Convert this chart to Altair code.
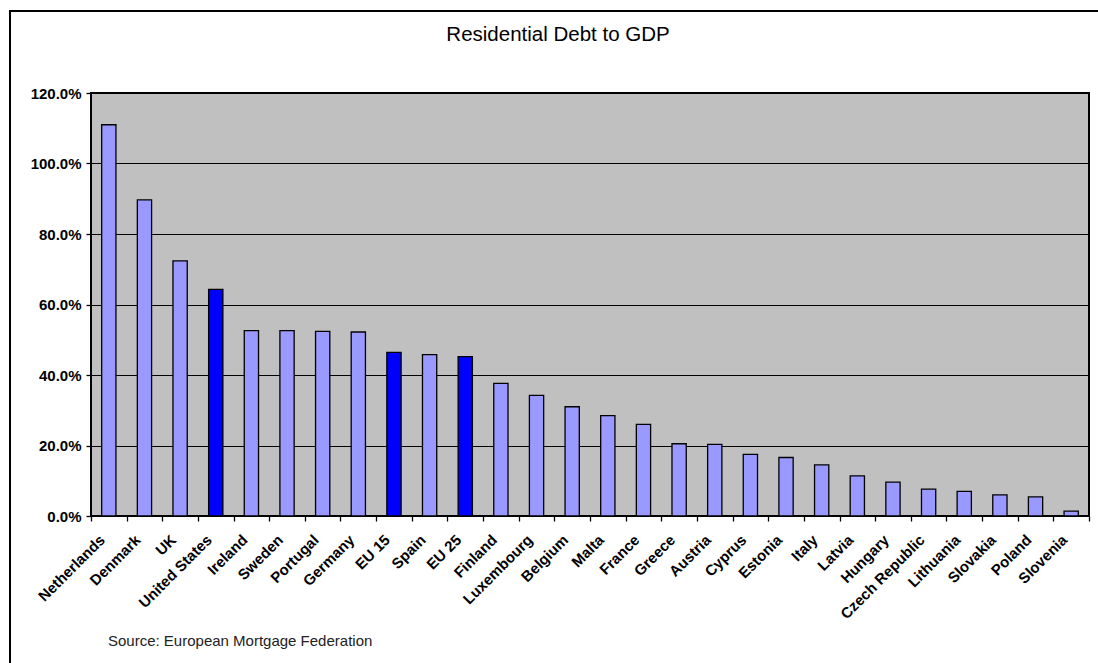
import altair as alt
import pandas as pd

# Residential mortgage debt as a share of GDP, per country / aggregate
countries = [
    "Netherlands", "Denmark", "UK", "United States", "Ireland", "Sweden",
    "Portugal", "Germany", "EU 15", "Spain", "EU 25", "Finland",
    "Luxembourg", "Belgium", "Malta", "France", "Greece", "Austria",
    "Cyprus", "Estonia", "Italy", "Latvia", "Hungary", "Czech Republic",
    "Lithuania", "Slovakia", "Poland", "Slovenia",
]
debt_pct = [
    111.0, 89.7, 72.4, 64.3, 52.6, 52.6,
    52.4, 52.2, 46.4, 45.8, 45.2, 37.6,
    34.2, 31.0, 28.5, 26.0, 20.5, 20.3,
    17.5, 16.6, 14.5, 11.4, 9.6, 7.6,
    7.0, 6.0, 5.4, 1.4,
]
highlighted = ["United States", "EU 15", "EU 25"]
y_ticks = [0, 20, 40, 60, 80, 100, 120]

title_text = "Residential Debt to GDP"
source_text = "Source: European Mortgage Federation"

FONT = "Liberation Sans, Arial, Helvetica, sans-serif"
PLOT_W, PLOT_H = 998, 423

df = pd.DataFrame({"Country": countries, "Debt": debt_pct})

bars = alt.Chart(df).mark_bar(
    stroke="black", strokeWidth=1.3, width=alt.RelativeBandSize(0.4)
).encode(
    x=alt.X(
        "Country:N",
        sort=countries,
        scale=alt.Scale(paddingInner=0, paddingOuter=0),
        axis=alt.Axis(
            title=None,
            labelAngle=-45,
            labelAlign="right",
            labelBaseline="middle",
            labelFont=FONT,
            labelFontSize=15,
            labelFontWeight="bold",
            labelColor="black",
            labelPadding=16,
            labelOffset=-7,
            labelOverlap=False,
            tickBand="extent",
            tickSize=5,
            tickColor="black",
            tickWidth=1.3,
            domain=False,
            grid=False,
        ),
    ),
    y=alt.Y(
        "Debt:Q",
        scale=alt.Scale(domain=[0, 120], nice=False),
        axis=alt.Axis(
            title=None,
            values=y_ticks,
            labelExpr="format(datum.value / 100, '.1%')",
            labelFont=FONT,
            labelFontSize=15,
            labelFontWeight="bold",
            labelColor="black",
            labelPadding=5,
            tickSize=5,
            tickColor="black",
            tickWidth=1.3,
            domain=False,
            grid=True,
            gridColor="black",
            gridWidth=1,
        ),
    ),
    color=alt.condition(
        alt.FieldOneOfPredicate(field="Country", oneOf=highlighted),
        alt.value("#0000FF"),
        alt.value("#9999FF"),
    ),
)

title = alt.Chart(pd.DataFrame({"t": [title_text]})).mark_text(
    font=FONT, fontSize=20.5, color="black", align="center", baseline="alphabetic"
).encode(text="t:N", x=alt.value(467), y=alt.value(-52))

source = alt.Chart(pd.DataFrame({"t": [source_text]})).mark_text(
    font=FONT, fontSize=15, color="#222222", align="left", baseline="alphabetic"
).encode(text="t:N", x=alt.value(17), y=alt.value(553))

# Outer chart frame
frame = alt.Chart(pd.DataFrame({"f": [0]})).mark_rect(
    fillOpacity=0, stroke="black", strokeWidth=2
).encode(
    x=alt.value(-81), x2=alt.value(1100), y=alt.value(-82), y2=alt.value(700)
)

chart = alt.layer(bars, title, source, frame).properties(
    width=PLOT_W,
    height=PLOT_H,
    autosize=alt.AutoSizeParams(type="none"),
    padding={"left": 91, "top": 93, "right": 9, "bottom": 147},
    background="white",
).configure_view(
    fill="#C0C0C0", stroke="black", strokeWidth=2
)

chart.save("out.html", embed_options={"renderer": "svg", "actions": False})
